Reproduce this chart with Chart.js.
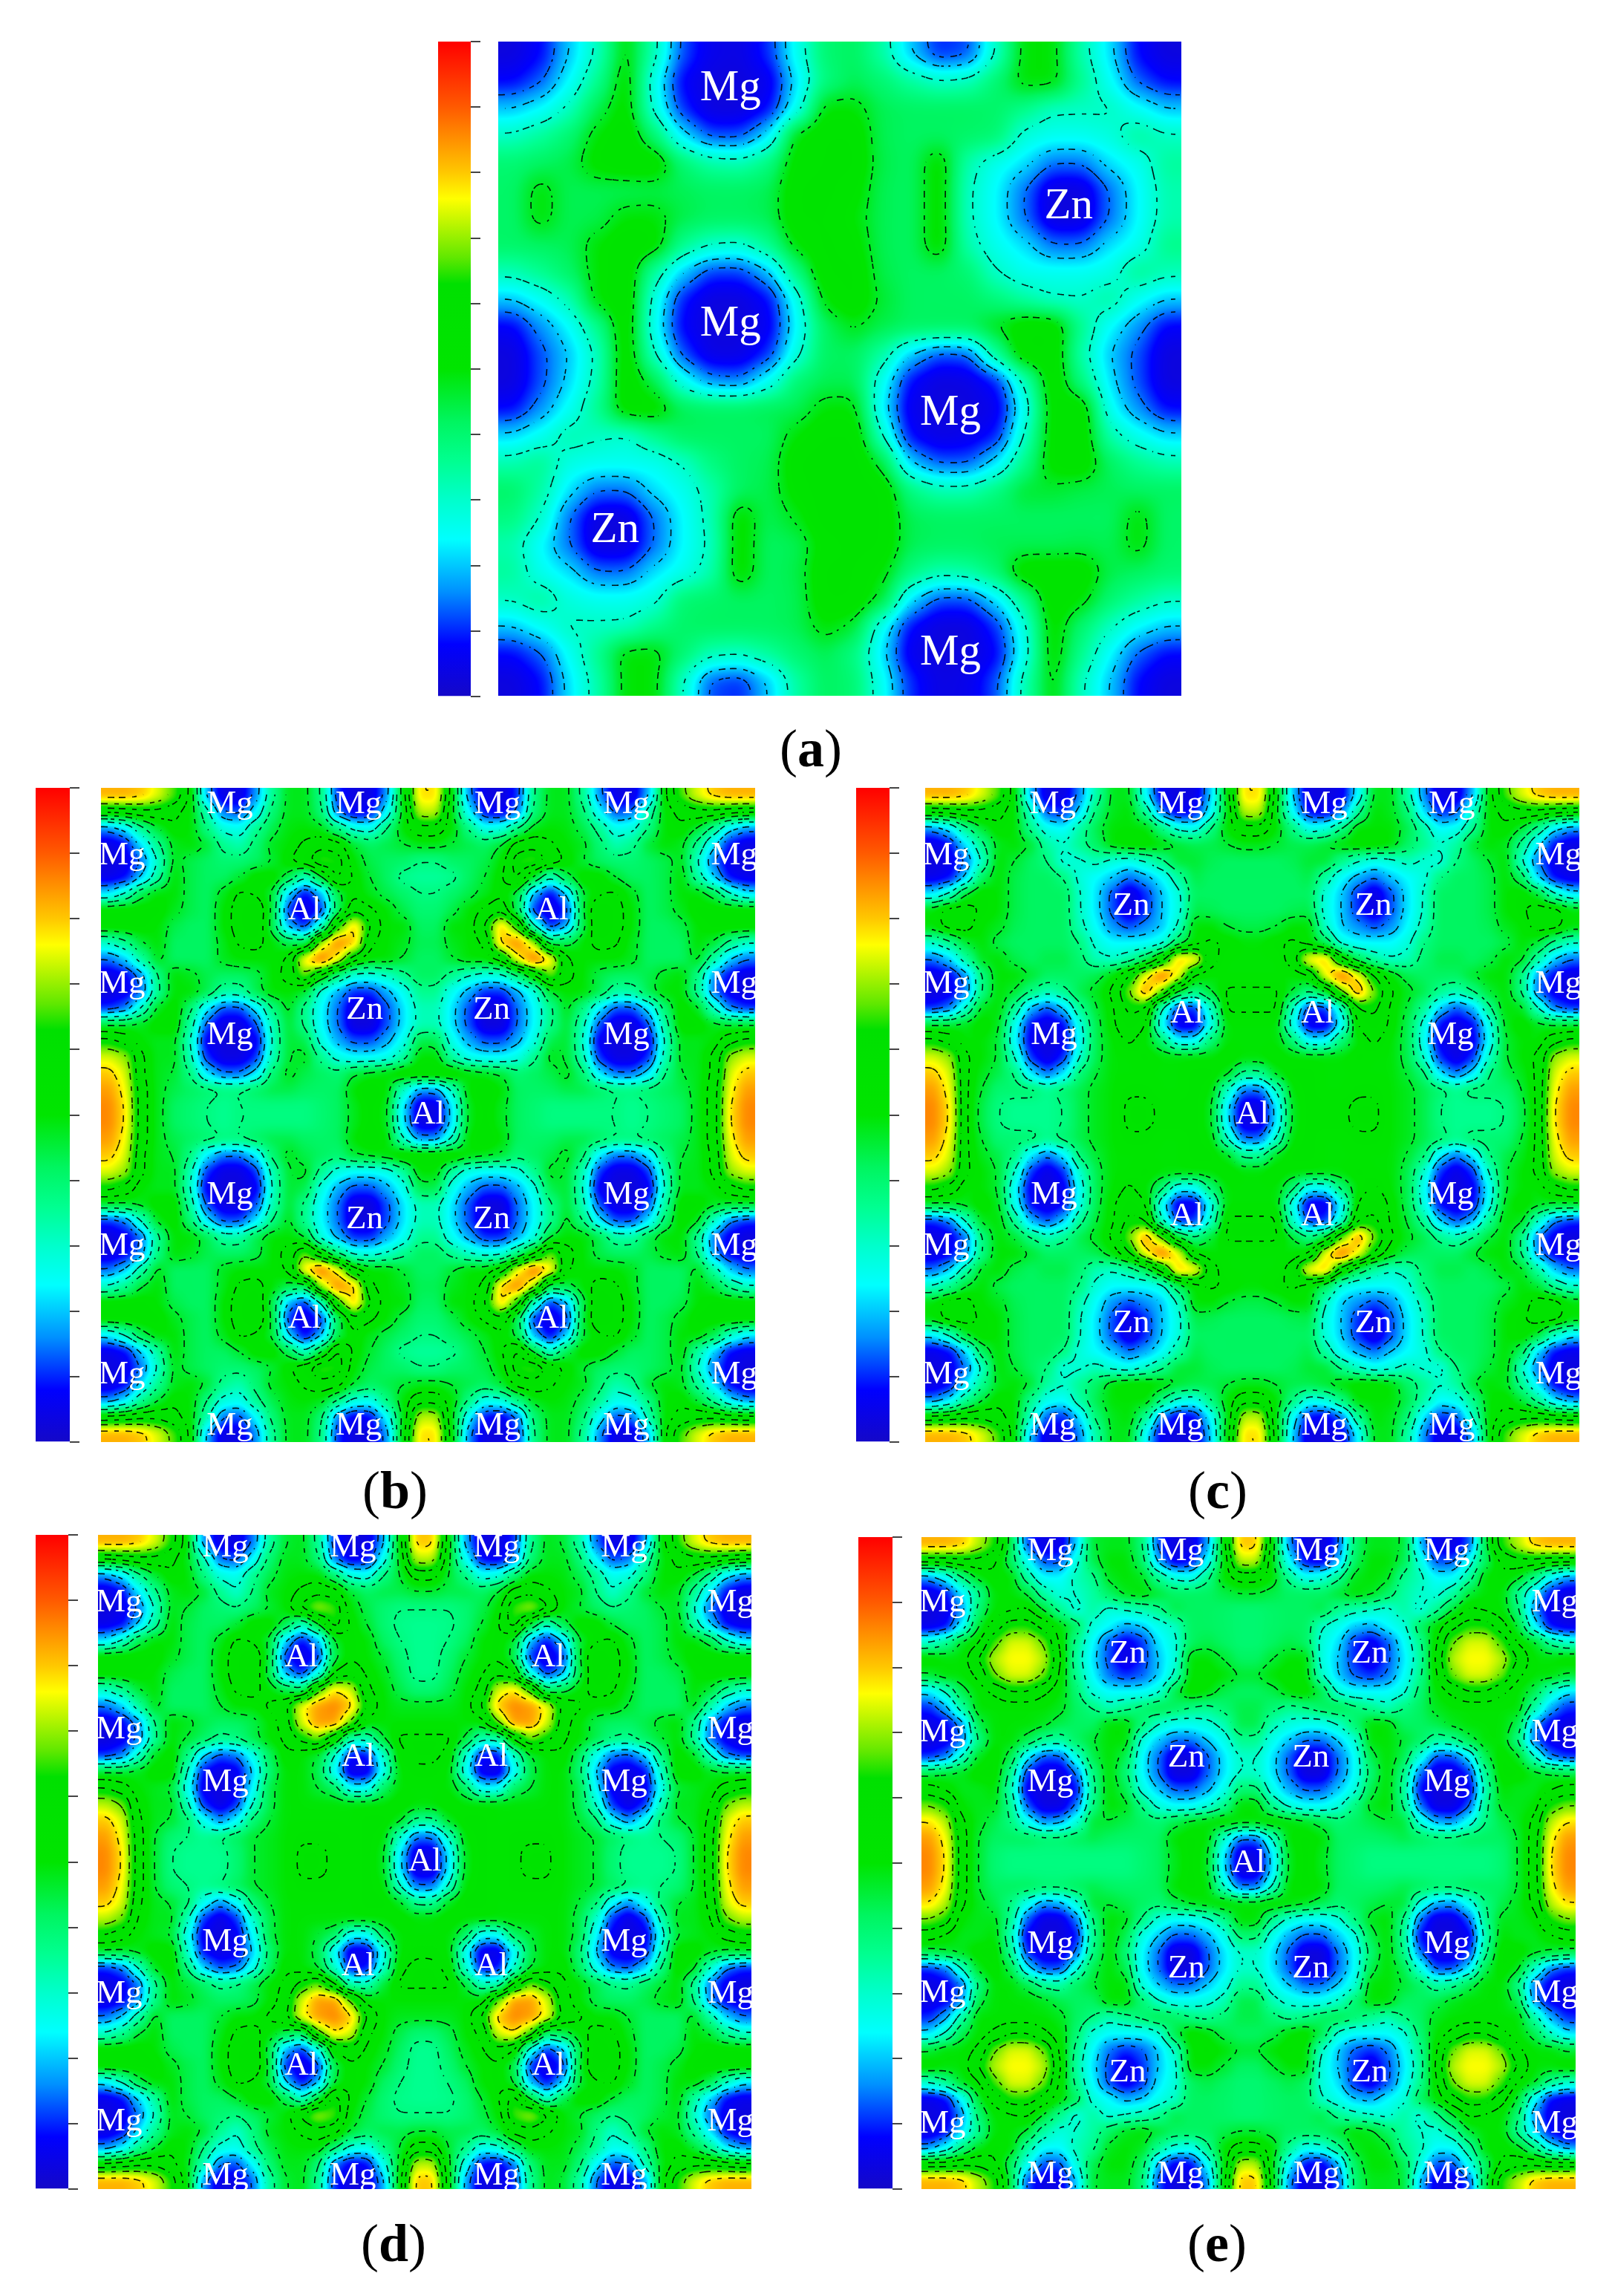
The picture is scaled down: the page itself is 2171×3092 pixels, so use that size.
<!DOCTYPE html>
<html>
<head>
<meta charset="utf-8">
<style>
  html, body { margin: 0; background: #fff; }
  #page { position: relative; width: 2171px; height: 3092px; overflow: hidden; }
  canvas { position: absolute; display: block; }
  .cap { position: absolute; font: 72px "Liberation Serif", serif; color: #000; transform: translate(-50%, -50%); }
</style>
<script src="https://cdn.jsdelivr.net/npm/chart.js@4"></script>
</head>
<body>
<div id="page"></div>
<script>
// values are 0-100 on the colour bar
const fieldA = [
  [3,8,20,31,50,32,12,5,4,10,26,40,42,34,20,10,12,30,50,50,33,22,8,3],
  [8,13,24,36,52,26,7,3,3,5,22,38,43,40,35,31,32,40,50,50,36,25,13,8],
  [20,24,31,44,52,28,10,3,3,8,25,50,50,43,42,42,42,41,37,31,31,31,25,20],
  [31,35,40,50,54,40,22,12,12,22,50,54,54,43,42,42,41,40,28,26,26,28,35,31],
  [40,42,44,52,54,54,40,34,33,38,52,54,55,44,42,52,33,26,22,14,14,22,26,35],
  [41,50,43,43,43,44,43,42,42,43,54,55,52,43,42,52,31,24,14,3,3,14,24,33],
  [41,50,43,44,50,50,44,42,42,43,54,54,50,43,42,52,31,24,14,3,3,14,24,33],
  [41,42,43,50,54,52,36,30,29,36,50,55,52,43,42,52,33,26,22,14,14,22,26,37],
  [32,36,41,50,54,34,20,11,11,19,38,54,55,44,42,42,40,30,26,26,26,27,36,32],
  [20,25,32,50,55,27,9,3,3,8,26,50,55,46,42,42,42,39,34,30,30,34,25,20],
  [7,16,24,36,54,25,7,3,3,6,24,42,48,44,42,42,42,48,54,54,36,24,16,7],
  [3,12,20,31,54,30,12,4,4,10,28,42,42,34,20,12,13,35,54,54,33,20,12,3],
  [3,12,21,32,54,44,26,16,15,25,40,43,43,26,8,3,4,9,31,54,38,22,12,3],
  [8,16,25,36,53,53,43,42,42,43,43,50,50,23,5,3,3,5,25,52,54,25,16,8],
  [21,26,33,31,29,36,42,42,42,42,50,54,54,30,8,4,5,9,30,52,54,33,26,21],
  [33,36,27,26,26,26,30,38,42,43,54,56,56,45,20,13,13,22,37,52,54,42,36,33],
  [41,34,22,14,14,22,26,33,42,44,52,56,56,54,38,33,33,38,46,46,44,43,42,42],
  [38,30,14,3,3,14,24,32,52,43,48,56,57,54,43,42,42,42,42,42,42,42,50,41],
  [33,24,14,3,3,14,24,31,52,42,43,52,55,54,43,42,42,43,43,43,44,43,50,41],
  [35,26,22,14,14,22,26,33,52,42,44,55,54,50,38,33,34,40,54,54,54,44,42,40],
  [31,35,28,26,26,28,40,41,42,42,43,54,54,46,22,12,12,22,36,54,50,40,35,31],
  [20,25,31,31,31,37,41,42,42,42,43,50,46,25,8,3,3,10,28,52,40,31,24,20],
  [8,13,25,36,50,50,40,32,31,35,40,43,38,22,5,3,3,7,26,52,36,24,13,8],
  [3,8,22,33,50,50,30,12,10,20,34,42,40,26,10,4,5,12,32,50,31,20,8,3],
];

// panels b-e are mirror symmetric, so only the top-left quarter is listed
const quarterB = [
  [82,82,80,74,66,52,18,4,4,16,36,48,48,38,10,3,4,16,50,78],
  [55,56,58,58,55,50,33,14,12,24,40,48,48,40,14,6,8,24,48,72],
  [16,22,36,46,52,50,38,28,26,36,44,49,50,48,38,28,26,38,50,58],
  [4,8,22,36,48,50,46,36,33,40,48,50,54,58,56,46,42,44,46,48],
  [3,5,14,30,48,44,42,40,40,42,46,52,58,66,64,50,44,42,41,38],
  [5,8,20,34,50,44,42,42,46,52,52,44,30,46,62,52,46,42,36,35],
  [22,30,44,50,50,44,42,48,54,52,46,20,7,18,44,52,48,44,41,38],
  [52,52,52,52,48,44,42,50,56,60,46,10,3,10,42,58,54,50,44,40],
  [52,52,52,50,44,42,42,50,56,60,44,18,10,30,64,80,60,50,50,42],
  [30,36,46,50,42,42,42,48,54,56,50,44,42,72,86,80,54,50,48,43],
  [14,20,34,48,42,42,42,48,50,50,50,54,78,88,76,56,50,50,46,42],
  [4,7,16,38,50,48,44,42,42,44,50,56,68,52,38,28,27,30,36,42],
  [3,6,14,36,50,50,44,34,34,44,50,50,46,27,18,10,10,18,25,36],
  [10,14,30,48,52,40,22,12,12,22,38,48,36,24,14,3,3,12,22,32],
  [46,46,48,52,52,34,12,4,4,12,32,46,37,24,14,3,3,12,22,32],
  [62,58,50,48,48,30,6,3,3,6,30,46,44,27,18,12,12,18,26,44],
  [74,70,54,48,48,32,10,4,4,10,32,46,48,36,27,24,24,26,34,50],
  [80,74,54,48,46,38,22,14,14,22,40,48,44,42,40,46,48,50,54,54],
  [84,76,56,48,44,42,40,38,38,41,44,44,42,41,42,50,54,50,30,16],
  [86,78,56,48,42,40,38,36,38,38,38,38,38,40,42,48,52,48,22,4],
];

const quarterC = [
  [82,82,80,74,66,50,18,4,4,16,34,48,48,24,6,3,4,20,50,78],
  [55,56,58,58,55,50,30,12,10,22,40,48,50,36,14,6,8,24,48,72],
  [16,22,36,46,52,50,36,26,24,34,44,50,50,50,38,28,26,38,50,58],
  [4,8,22,36,48,50,46,34,30,36,42,50,52,52,50,46,44,44,46,48],
  [3,5,14,30,50,46,42,38,28,29,32,28,26,30,37,46,46,43,42,42],
  [5,8,20,42,50,44,42,42,38,28,24,20,14,18,24,34,44,42,42,42],
  [22,30,46,52,50,44,42,42,42,30,22,12,3,10,20,28,42,42,42,42],
  [50,56,56,52,50,44,42,42,42,30,22,12,3,10,20,27,44,43,42,42],
  [50,56,56,50,48,43,42,42,42,32,24,16,12,16,20,30,50,50,46,44],
  [30,36,46,50,44,42,42,42,42,38,28,24,24,24,27,42,50,54,52,50],
  [14,20,34,48,50,44,42,44,44,40,32,30,34,42,56,80,78,56,50,50],
  [4,7,16,38,50,50,46,42,42,42,44,50,60,76,88,76,52,50,50,50],
  [3,6,14,38,50,46,38,32,36,44,48,54,68,84,68,46,38,46,54,54],
  [10,14,30,48,50,36,18,12,20,36,46,52,62,60,30,10,10,30,54,54],
  [46,46,48,52,48,26,8,4,8,28,44,52,58,54,24,5,5,26,50,50],
  [62,58,50,50,46,24,6,3,6,26,44,50,54,50,40,24,24,40,50,50],
  [74,70,54,50,46,30,10,4,10,30,44,50,50,52,50,50,50,50,52,50],
  [80,74,54,48,44,38,22,14,22,40,46,50,50,50,50,50,52,52,48,36],
  [84,76,54,46,40,40,40,36,40,44,48,50,52,52,50,50,52,50,30,14],
  [86,78,54,44,38,36,36,36,38,44,48,50,54,54,52,52,52,48,22,4],
];

const quarterD = [
  [82,82,80,74,64,50,16,4,4,14,34,46,48,36,10,3,4,18,50,80],
  [54,56,58,58,55,48,32,14,12,24,40,48,48,40,14,6,8,26,48,72],
  [16,22,36,46,52,50,38,28,26,36,44,49,50,50,40,28,26,38,46,56],
  [4,8,22,36,48,50,46,36,30,38,48,50,54,58,56,46,42,44,44,46],
  [3,5,14,30,48,46,42,40,38,42,46,50,62,70,66,50,44,40,38,38],
  [5,8,20,34,50,44,42,42,46,52,52,44,30,46,64,52,46,40,37,36],
  [22,30,44,50,50,44,42,48,54,52,46,20,8,18,46,52,50,42,38,36],
  [52,52,52,52,48,44,42,50,56,60,46,10,3,10,44,52,50,46,40,36],
  [52,52,52,50,44,42,42,50,56,60,44,18,10,26,54,58,52,48,42,36],
  [30,36,46,50,42,42,42,48,54,56,50,44,40,66,78,74,54,50,44,40],
  [14,20,34,48,42,42,42,46,50,50,54,58,76,84,86,80,60,50,48,48],
  [4,7,16,38,50,48,44,42,42,44,50,56,74,84,84,68,50,50,50,50],
  [3,6,14,36,50,46,42,36,38,44,50,54,62,68,54,32,32,46,54,54],
  [10,14,30,48,52,38,20,12,14,26,42,52,50,46,30,8,8,30,52,54],
  [46,46,48,52,52,30,8,4,6,20,40,50,50,44,24,4,5,26,50,52],
  [60,56,50,48,46,26,5,3,6,24,44,50,50,46,42,24,24,42,50,50],
  [72,68,52,48,48,32,10,4,10,30,44,50,50,50,50,50,50,50,52,50],
  [80,74,54,48,46,40,26,16,24,40,46,50,50,50,50,50,52,52,48,36],
  [84,76,56,46,40,38,36,38,42,46,48,50,52,52,52,50,52,50,30,14],
  [86,78,56,46,38,36,36,36,40,46,48,50,54,54,52,50,52,48,22,4],
];

const quarterE = [
  [82,82,80,72,64,44,12,4,5,20,46,48,48,40,12,3,4,16,50,80],
  [56,56,58,58,54,42,26,12,12,28,44,50,50,42,18,6,8,24,48,72],
  [16,24,38,48,52,50,34,24,24,32,36,48,50,48,36,28,26,36,50,56],
  [4,8,22,36,50,50,46,34,28,30,34,42,48,50,46,42,42,42,44,46],
  [3,5,16,40,50,52,54,46,36,28,34,28,30,32,36,44,42,42,41,40],
  [5,8,24,46,56,64,64,58,50,42,28,24,18,20,26,30,42,42,41,40],
  [30,36,48,52,66,74,74,68,52,36,24,12,5,10,22,28,42,44,42,40],
  [52,50,50,60,72,76,76,72,54,34,22,12,3,10,20,27,50,50,46,42],
  [46,50,50,54,68,74,74,68,52,36,24,14,10,13,20,30,50,52,50,46],
  [22,30,44,50,54,60,60,54,50,40,28,24,24,24,28,44,52,50,44,42],
  [10,18,34,50,50,50,50,50,48,42,38,32,36,40,44,42,38,36,40,44],
  [4,7,16,44,50,50,50,48,44,42,42,50,50,40,30,26,26,28,32,44],
  [3,6,14,38,50,50,44,36,34,42,46,50,50,28,20,14,14,20,26,36],
  [10,14,30,48,52,44,22,12,12,28,44,50,44,24,14,3,3,13,22,30],
  [44,46,48,52,52,36,10,4,4,14,38,50,40,24,14,3,3,13,22,30],
  [56,52,48,48,50,32,6,3,3,8,36,50,44,27,20,13,13,18,26,40],
  [68,64,50,48,48,36,12,4,4,14,38,50,48,38,28,24,24,28,36,50],
  [78,72,54,48,44,38,26,16,18,28,46,46,44,42,40,44,48,50,52,50],
  [84,76,56,46,42,42,42,40,40,42,44,42,41,41,42,50,52,50,30,14],
  [86,78,56,46,40,38,38,38,38,38,38,38,38,40,42,48,52,48,22,4],
];

// atom labels: [text, x, y] as fractions of the plot
const labelsA = [["Mg",.34,.072],["Zn",.835,.253],["Mg",.34,.432],["Mg",.662,.568],["Zn",.171,.747],["Mg",.662,.935]];
const labelsB = [["Mg",.197,.025],["Mg",.394,.025],["Mg",.032,.103],["Al",.311,.188],["Mg",.032,.30],["Zn",.403,.34],["Mg",.197,.378],["Al",.5,.5]];
const labelsC = [["Mg",.195,.025],["Mg",.39,.025],["Mg",.032,.103],["Zn",.315,.181],["Mg",.032,.30],["Al",.40,.345],["Mg",.197,.378],["Al",.5,.5]];
const labelsD = [["Mg",.195,.02],["Mg",.39,.02],["Mg",.032,.103],["Al",.311,.188],["Mg",.032,.298],["Al",.398,.34],["Mg",.195,.378],["Al",.5,.5]];
const labelsE = [["Mg",.197,.022],["Mg",.396,.022],["Mg",.032,.10],["Zn",.315,.179],["Mg",.032,.30],["Zn",.405,.338],["Mg",.197,.376],["Al",.5,.5]];

const barTicks = [0,10,20,30,40,50,60,70,80,90,100];
const colorStops = [[0,"#1408c8"],[8,"#0000ff"],[16,"#0090ff"],[24,"#00ffff"],[30,"#00ffcc"],[36,"#00ff90"],[42,"#00f560"],[50,"#00e500"],[63,"#00e000"],[67,"#60e800"],[76,"#ffff00"],[80,"#ffc800"],[90,"#ff5a00"],[100,"#ff0000"]];
const levelsA = [14,20,30,47];
const levelsRest = [14,20,30,38,46,53,60,68,78];

const page = document.getElementById("page");

function hexRgb(h) { return [1,3,5].map((i) => parseInt(h.slice(i, i + 2), 16)); }

const LUT = [];
for (let i = 0; i <= 1000; i++) {
  const v = i / 10;
  let k = 0;
  while (k < colorStops.length - 2 && v > colorStops[k + 1][0]) k++;
  const [v0, c0] = colorStops[k], [v1, c1] = colorStops[k + 1];
  const t = (v - v0) / (v1 - v0);
  const a = hexRgb(c0), b = hexRgb(c1);
  LUT.push(a.map((p, n) => Math.round(p + (b[n] - p) * t)));
}

function unfold(q) {
  const top = q.map((row) => row.concat(row.slice().reverse()));
  return top.concat(top.slice().reverse());
}

function unfoldLabels(q) {
  const out = [];
  for (const [t, x, y] of q) {
    const xs = x === .5 ? [x] : [x, 1 - x];
    const ys = y === .5 ? [y] : [y, 1 - y];
    for (const px of xs) for (const py of ys) out.push([t, px, py]);
  }
  return out;
}

function boxBlur(src, w, h, r) {
  const tmp = new Float32Array(w * h), out = new Float32Array(w * h);
  const n = 2 * r + 1;
  for (let y = 0; y < h; y++) {
    let s = 0;
    for (let i = -r; i <= r; i++) s += src[y * w + Math.min(w - 1, Math.max(0, i))];
    for (let x = 0; x < w; x++) {
      tmp[y * w + x] = s / n;
      s += src[y * w + Math.min(w - 1, x + r + 1)] - src[y * w + Math.max(0, x - r)];
    }
  }
  for (let x = 0; x < w; x++) {
    let s = 0;
    for (let i = -r; i <= r; i++) s += tmp[Math.min(h - 1, Math.max(0, i)) * w + x];
    for (let y = 0; y < h; y++) {
      out[y * w + x] = s / n;
      s += tmp[Math.min(h - 1, y + r + 1) * w + x] - tmp[Math.max(0, y - r) * w + x];
    }
  }
  return out;
}

function drawContours(ctx, f, w, h, levels) {
  const s = 3;
  ctx.save();
  ctx.strokeStyle = "rgba(0,0,0,.9)";
  ctx.lineWidth = 1.6;
  ctx.beginPath();
  for (const lv of levels) {
    for (let y = 0; y + s < h; y += s) {
      for (let x = 0; x + s < w; x += s) {
        // the dash pattern comes from which 8px tile the cell falls in
        if (((x >> 3) + (y >> 3)) % 2) continue;
        const a = f[y * w + x], b = f[y * w + x + s], c = f[(y + s) * w + x + s], d = f[(y + s) * w + x];
        const pts = [];
        if ((a < lv) !== (b < lv)) pts.push([x + s * (lv - a) / (b - a), y]);
        if ((b < lv) !== (c < lv)) pts.push([x + s, y + s * (lv - b) / (c - b)]);
        if ((d < lv) !== (c < lv)) pts.push([x + s * (lv - d) / (c - d), y + s]);
        if ((a < lv) !== (d < lv)) pts.push([x, y + s * (lv - a) / (d - a)]);
        for (let i = 0; i + 1 < pts.length; i += 2) {
          ctx.moveTo(pts[i][0], pts[i][1]);
          ctx.lineTo(pts[i + 1][0], pts[i + 1][1]);
        }
      }
    }
  }
  ctx.stroke();
  ctx.restore();
}

// cells come out of Chart.js as grey value codes; this smooths them and maps them to the colour bar
function fieldPlugin(labels, fontPx, blurR, levels) {
  return {
    id: "field",
    afterDatasetsDraw(chart) {
      const ctx = chart.ctx, w = chart.width, h = chart.height;
      const img = ctx.getImageData(0, 0, w, h);
      let f = new Float32Array(w * h);
      for (let i = 0; i < w * h; i++) f[i] = img.data[i * 4] / 2.55;
      for (let p = 0; p < 3; p++) f = boxBlur(f, w, h, blurR);
      for (let i = 0; i < w * h; i++) {
        const c = LUT[Math.max(0, Math.min(1000, Math.round(f[i] * 10)))];
        img.data[i * 4] = c[0]; img.data[i * 4 + 1] = c[1]; img.data[i * 4 + 2] = c[2]; img.data[i * 4 + 3] = 255;
      }
      ctx.putImageData(img, 0, 0);
      drawContours(ctx, f, w, h, levels);
      ctx.save();
      ctx.fillStyle = "#fff";
      ctx.font = fontPx + 'px "Liberation Serif", serif';
      ctx.textAlign = "center";
      ctx.textBaseline = "middle";
      for (const [t, x, y] of labels) {
        ctx.fillText(t, chart.scales.x.getPixelForValue(x), chart.scales.y.getPixelForValue(y));
      }
      ctx.restore();
    },
  };
}

function addCanvas(x, y, w, h) {
  const c = document.createElement("canvas");
  c.width = w; c.height = h;
  c.style.left = x + "px"; c.style.top = y + "px";
  c.style.width = w + "px"; c.style.height = h + "px";
  page.appendChild(c);
  return c;
}

function drawField(box, rows, labels, fontPx, levels) {
  const [x, y, w, h] = box;
  const n = rows.length;
  const pts = [];
  rows.forEach((row, r) => row.forEach((v, c) => pts.push({ x: (c + .5) / n, y: (r + .5) / n, v })));
  const side = w / n + 1;
  new Chart(addCanvas(x, y, w, h), {
    type: "scatter",
    data: { datasets: [{
      data: pts,
      pointStyle: "rect",
      pointRadius: side / Math.SQRT2,
      pointBorderWidth: 0,
      pointBackgroundColor: (c) => { const g = c.raw ? Math.round(c.raw.v * 2.55) : 0; return `rgb(${g},${g},${g})`; },
    }] },
    options: {
      responsive: false, animation: false, devicePixelRatio: 1,
      layout: { padding: 0, autoPadding: false },
      plugins: { legend: { display: false }, tooltip: { enabled: false } },
      scales: {
        x: { type: "linear", min: 0, max: 1, display: false },
        y: { type: "linear", min: 0, max: 1, reverse: true, display: false },
      },
    },
    plugins: [fieldPlugin(labels, fontPx, Math.max(4, Math.round(w / n * .34)), levels)],
  });
}

function drawBar(box) {
  const [x, y, w, h] = box;
  const pad = 2;
  new Chart(addCanvas(x, y - pad, w + 13, h + pad * 2), {
    type: "bar",
    data: { labels: [""], datasets: [{
      data: [[barTicks[0], barTicks[barTicks.length - 1]]],
      barPercentage: 1, categoryPercentage: 1, borderSkipped: false,
      backgroundColor: (c) => {
        const a = c.chart.chartArea;
        if (!a) return "#000";
        const g = c.chart.ctx.createLinearGradient(0, a.bottom, 0, a.top);
        for (const [v, col] of colorStops) g.addColorStop(v / 100, col);
        return g;
      },
    }] },
    options: {
      responsive: false, animation: false, devicePixelRatio: 1,
      layout: { padding: { top: pad, bottom: pad } },
      plugins: { legend: { display: false }, tooltip: { enabled: false } },
      scales: {
        x: { display: false },
        y: {
          position: "right", min: 0, max: 100,
          afterBuildTicks: (s) => { s.ticks = barTicks.map((value) => ({ value })); },
          afterFit: (s) => { s.width = 13; },
          ticks: { display: false },
          border: { display: false },
          grid: { drawOnChartArea: false, drawTicks: true, tickLength: 13, tickColor: "#444", lineWidth: 2 },
        },
      },
    },
  });
}

function addCaption(letter, x, y) {
  const d = document.createElement("div");
  d.className = "cap";
  d.style.left = x + "px"; d.style.top = y + "px";
  d.innerHTML = `(<b>${letter}</b>)`;
  page.appendChild(d);
}

drawBar([590, 56, 44, 882]);
drawField([671, 56, 920, 881], fieldA, labelsA, 59, levelsA);
addCaption("a", 1092, 1008);

drawBar([48, 1061, 46, 881]);
drawField([136, 1061, 881, 881], unfold(quarterB), unfoldLabels(labelsB), 45, levelsRest);
addCaption("b", 532, 2007);

drawBar([1153, 1061, 45, 881]);
drawField([1246, 1061, 881, 881], unfold(quarterC), unfoldLabels(labelsC), 45, levelsRest);
addCaption("c", 1640, 2007);

drawBar([48, 2067, 44, 881]);
drawField([132, 2067, 880, 881], unfold(quarterD), unfoldLabels(labelsD), 45, levelsRest);
addCaption("d", 530, 3021);

drawBar([1156, 2070, 46, 878]);
drawField([1241, 2070, 881, 878], unfold(quarterE), unfoldLabels(labelsE), 45, levelsRest);
addCaption("e", 1639, 3021);
</script>
</body>
</html>
